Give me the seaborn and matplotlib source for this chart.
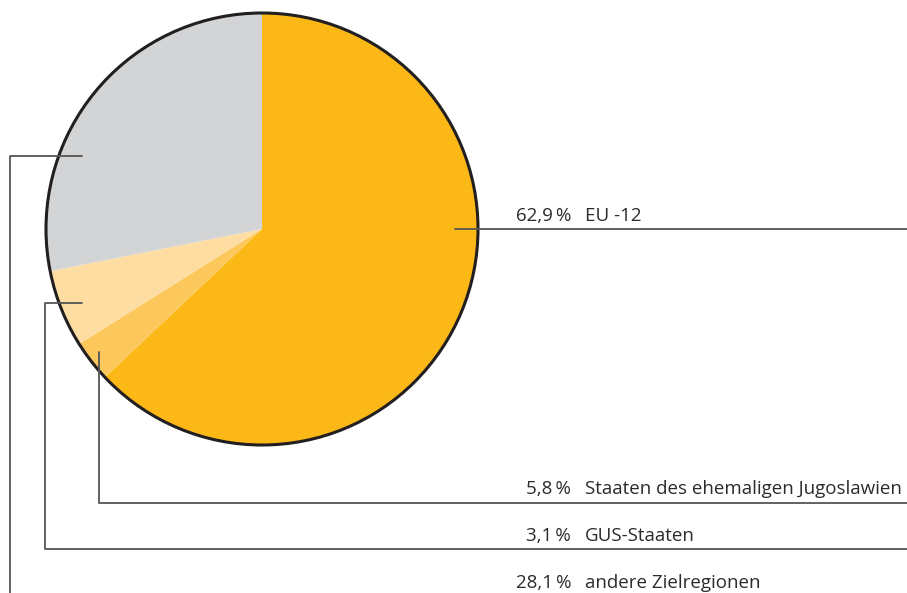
import matplotlib
matplotlib.use("Agg")
import matplotlib.pyplot as plt
import seaborn as sns

# Data
categories = ["EU -12", "GUS-Staaten", "Staaten des ehemaligen Jugoslawien", "andere Zielregionen"]
values = [62.9, 3.1, 5.8, 28.1]
value_labels = ["62,9\u2009%", "3,1\u2009%", "5,8\u2009%", "28,1\u2009%"]
colors = ["#FBB817", "#FDC85B", "#FEDDA3", "#D3D4D6"]

sns.set_theme(style="white")
plt.rcParams['font.family'] = ['Open Sans', 'DejaVu Sans']

W, H = 907, 593
fig = plt.figure(figsize=(W / 100, H / 100), dpi=100)
ax = fig.add_axes([0, 0, 1, 1])
ax.set_xlim(0, W)
ax.set_ylim(0, H)
ax.set_aspect("equal")
ax.axis("off")

cx, cy, r = 262, H - 229, 216
wedges, _ = ax.pie(values, colors=colors, startangle=90, counterclock=False,
                   center=(cx, cy), radius=r, normalize=True,
                   wedgeprops=dict(linewidth=0, antialiased=True))
ax.add_patch(plt.Circle((cx, cy), r, fill=False, ec="#231F20", lw=2.2, zorder=5))
ax.set_xlim(0, W)
ax.set_ylim(0, H)

lc = "#555555"
lw = 1.3
def Y(p):
    return H - p

# Leader lines (pixel coordinates from top)
ax.plot([455, W], [Y(229), Y(229)], color=lc, lw=lw, zorder=6)
ax.plot([99, 99, W], [Y(352), Y(503), Y(503)], color=lc, lw=lw, zorder=6)
ax.plot([82, 45, 45, W], [Y(303), Y(303), Y(549), Y(549)], color=lc, lw=lw, zorder=6)
ax.plot([82, 10, 10], [Y(156), Y(156), Y(600)], color=lc, lw=lw, zorder=6, clip_on=False)

text_rows = {0: 216, 2: 489, 1: 536, 3: 583}
tc = "#2B2B2B"
fs = 13.5
for i, yp in text_rows.items():
    ax.text(571, Y(yp), value_labels[i], ha="right", va="center", fontsize=fs, color=tc)
    ax.text(585, Y(yp), categories[i], ha="left", va="center", fontsize=fs, color=tc, clip_on=False)

fig.savefig("out.png", dpi=100)
